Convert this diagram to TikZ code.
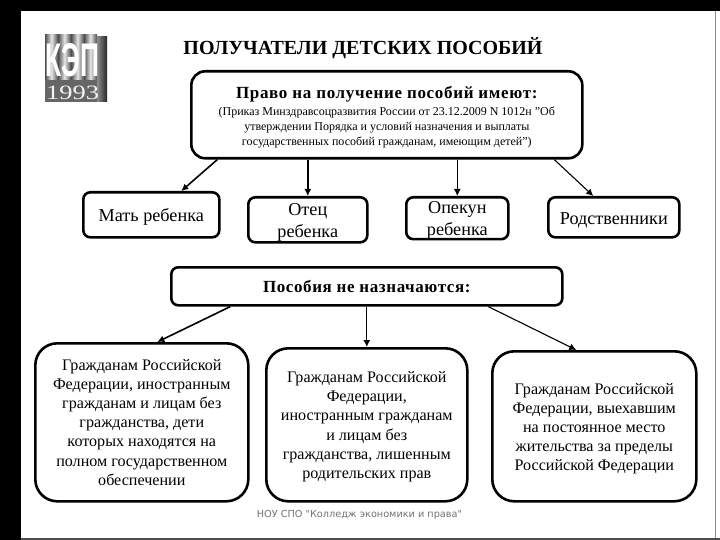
\documentclass[tikz,border=0pt]{standalone}
\usepackage{fontspec}
\usepackage{graphicx}
\setmainfont{Liberation Serif}
\newfontfamily\footfont{DejaVu Sans}
\newfontfamily\logofont{Liberation Sans}
\newcommand{\fsz}[2]{\fontsize{#1pt}{#2pt}\selectfont}
\newcommand{\pushdown}[1]{\rule{0pt}{#1pt}}
\usetikzlibrary{arrows.meta}
\tikzset{
  boxbase/.style={draw=black,fill=white,line width=2.6pt,align=center,inner sep=0pt,text=black,anchor=north west},
  smallbox/.style={boxbase,rounded corners=7pt,font=\fsz{18.2}{22}},
  bigbox/.style={boxbase,rounded corners=22pt,font=\fsz{16.1}{19.2}},
  conn/.style={draw=black,line width=1.6pt,-{Latex[length=7pt,width=7pt]}},
  thinconn/.style={conn,line width=1.1pt},
  logocol/.style={left color=black!70,right color=black!70,middle color=black!10,draw=none},
}
\begin{document}
\begin{tikzpicture}[x=1pt,y=-1pt]
\useasboundingbox (0,0) rectangle (720,540);
\fill[white] (0,0) rectangle (720,540);
\fill[black] (0,0) rectangle (720,11);
\fill[black] (0,0) rectangle (21,540);
\fill[black!70] (21,538) rectangle (720,540);
\fill[black!45] (714.5,11) rectangle (715.5,538);
% logo
\foreach \xa/\xb in {45/58,58/71,71/84,84/97}{
  \shade[logocol] (\xa,35) rectangle (\xb,80);
}
\shade[left color=black!45,right color=black!85,draw=none] (97,37) rectangle (107,102);
\fill[black!60] (45,80) rectangle (97,102.5);
\node[inner sep=0pt,text=white] (logoname) at (72.5,60.5) {\resizebox{54pt}{33pt}{\bfseries\logofont КЭП}};
\node[inner sep=0pt,text=black!5] (logoyear) at (72.5,93) {\resizebox{53pt}{13.5pt}{1993}};
% title
\node[inner sep=0pt,text=black] (title) at (363,48) {\fsz{20}{24}\bfseries ПОЛУЧАТЕЛИ ДЕТСКИХ ПОСОБИЙ};
% boxes
\node[boxbase,rounded corners=14pt,minimum width=391pt,minimum height=87pt,font=\fsz{12}{15}] (top) at (190,70) {%
  \pushdown{17}\fsz{17}{17}\bfseries\addfontfeature{LetterSpace=4}Право на получение пособий имеют:\\[2pt]
  (Приказ Минздравсоцразвития России от 23.12.2009 N 1012н "Об\\
  утверждении Порядка и условий назначения и выплаты\\
  государственных пособий гражданам, имеющим детей")};
\node[smallbox,minimum width=136pt,minimum height=45pt] (mother) at (82,191) {\pushdown{17}Мать ребенка};
\node[smallbox,minimum width=119pt,minimum height=45pt] (father) at (247,196) {\pushdown{18}Отец\\ребенка};
\node[smallbox,minimum width=102pt,minimum height=40pt] (guardian) at (405,196) {\pushdown{16}Опекун\\ребенка};
\node[smallbox,minimum width=131pt,minimum height=40pt] (relatives) at (547,196) {\pushdown{18}Родственники};
\node[smallbox,minimum width=391pt,minimum height=38pt] (denied) at (170,266) {\fsz{17}{20}\bfseries\addfontfeature{LetterSpace=3.5}Пособия не назначаются:};
\node[bigbox,minimum width=213pt,minimum height=158pt] (left) at (34,342) {Гражданам Российской\\Федерации, иностранным\\гражданам и лицам без\\гражданства, дети\\которых находятся на\\полном государственном\\обеспечении};
\node[bigbox,minimum width=201pt,minimum height=153pt] (mid) at (265,347) {\pushdown{15}Гражданам Российской\\Федерации,\\иностранным гражданам\\и лицам без\\гражданства, лишенным\\родительских прав};
\node[bigbox,minimum width=204pt,minimum height=150pt] (right) at (491,350) {\pushdown{16}Гражданам Российской\\Федерации, выехавшим\\на постоянное место\\жительства за пределы\\Российской Федерации};
% connectors
\draw[conn] ([xshift=-169.5pt]top.south) -- ([xshift=30pt]mother.north);
\draw[conn] ([xshift=-79pt]top.south) -- (father.north);
\draw[thinconn] ([xshift=70.5pt]top.south) -- (guardian.north);
\draw[thinconn] ([xshift=167.5pt]top.south) -- ([xshift=-20.5pt]relatives.north);
\draw[conn] ([xshift=-136.5pt]denied.south) -- ([xshift=15.5pt]left.north);
\draw[thinconn] (denied.south) -- (mid.north);
\draw[thinconn] ([xshift=121.5pt]denied.south) -- ([xshift=-18pt]right.north);
% footer
\node[inner sep=0pt,text=black!55] (footer) at (359.5,515) {\fsz{9.7}{11}\footfont НОУ СПО "Колледж экономики и права"};
\end{tikzpicture}
\end{document}
